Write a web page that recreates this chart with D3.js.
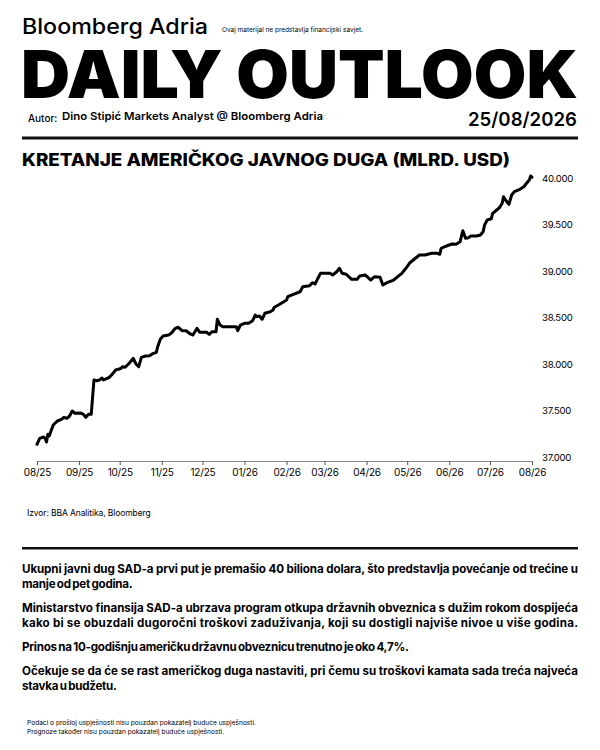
<!DOCTYPE html>
<html>
<head>
<meta charset="utf-8">
<script src="https://cdn.jsdelivr.net/npm/d3@7"></script>
<style>
  html, body { margin: 0; padding: 0; background: #fff; }
  svg { display: block; }
  text { font-family: Inter, "Liberation Sans", sans-serif; fill: #000; }
</style>
</head>
<body>
<svg id="chart" width="600" height="750"></svg>
<script>
// ---- data ----
const dates = [
  "2025-08-25","2025-08-27","2025-08-30","2025-08-31","2025-09-01","2025-09-02","2025-09-03","2025-09-04",
  "2025-09-06","2025-09-09","2025-09-12","2025-09-14","2025-09-16","2025-09-18","2025-09-20","2025-09-22",
  "2025-09-26","2025-09-28","2025-09-30","2025-10-02","2025-10-04","2025-10-06","2025-10-08","2025-10-10",
  "2025-10-12","2025-10-13","2025-10-17","2025-10-19","2025-10-22","2025-10-24","2025-10-26","2025-10-27",
  "2025-10-29","2025-11-01","2025-11-04","2025-11-06","2025-11-08","2025-11-10","2025-11-13","2025-11-16",
  "2025-11-18","2025-11-21","2025-11-22","2025-11-24","2025-11-26","2025-11-30","2025-12-02","2025-12-05",
  "2025-12-07","2025-12-10","2025-12-13","2025-12-16","2025-12-18","2025-12-21","2025-12-23","2025-12-28",
  "2025-12-30","2026-01-01","2026-01-04","2026-01-05","2026-01-07","2026-01-09","2026-01-17","2026-01-19",
  "2026-01-20","2026-01-22","2026-01-25","2026-01-28","2026-01-31","2026-02-02","2026-02-03","2026-02-05",
  "2026-02-07","2026-02-09","2026-02-13","2026-02-15","2026-02-16","2026-02-19","2026-02-23","2026-02-25",
  "2026-02-26","2026-03-02","2026-03-07","2026-03-09","2026-03-14","2026-03-16","2026-03-18","2026-03-22",
  "2026-03-25","2026-03-29","2026-03-31","2026-04-03","2026-04-05","2026-04-07","2026-04-10","2026-04-14",
  "2026-04-18","2026-04-20","2026-04-24","2026-04-26","2026-04-28","2026-05-01","2026-05-05","2026-05-07",
  "2026-05-10","2026-05-15","2026-05-18","2026-05-21","2026-05-24","2026-05-27","2026-05-31","2026-06-03",
  "2026-06-07","2026-06-12","2026-06-16","2026-06-18","2026-06-19","2026-06-23","2026-06-27","2026-06-30",
  "2026-07-03","2026-07-05","2026-07-07","2026-07-09","2026-07-11","2026-07-15","2026-07-18","2026-07-20",
  "2026-07-21","2026-07-23","2026-07-26","2026-07-27","2026-07-30","2026-08-01","2026-08-03","2026-08-04",
  "2026-08-06","2026-08-08","2026-08-10","2026-08-12","2026-08-16","2026-08-19","2026-08-21","2026-08-23",
  "2026-08-24","2026-08-25"
];
const debt = [
  37137,37201,37215,37201,37161,37244,37226,37266,
  37344,37387,37405,37427,37416,37441,37495,37470,
  37473,37462,37427,37459,37459,37828,37820,37828,
  37849,37828,37853,37882,37935,37943,37954,37971,
  37965,38008,38061,38000,37971,38072,38086,38089,
  38108,38126,38186,38269,38301,38312,38330,38384,
  38395,38358,38358,38323,38312,38384,38341,38341,
  38319,38347,38347,38481,38419,38401,38401,38401,
  38358,38419,38438,38438,38466,38527,38509,38516,
  38481,38545,38562,38581,38610,38634,38670,38688,
  38724,38749,38777,38831,38842,38874,38860,38975,
  38975,38975,38957,38992,39029,38975,38965,38911,
  38911,38946,38957,38932,38903,38939,38932,38849,
  38874,38903,38939,38975,39029,39089,39137,39172,
  39172,39190,39190,39180,39244,39269,39290,39287,
  39315,39433,39352,39358,39376,39376,39387,39423,
  39495,39548,39562,39620,39656,39681,39728,39799,
  39753,39717,39817,39853,39878,39906,39943,39978,
  40022,40008
];
const yTicks = [37000, 37500, 38000, 38500, 39000, 39500, 40000];
const xStart = "2025-08-25";
const xEnd = "2026-08-25";

const headerBrand = "Bloomberg Adria";
const disclaimerTop = "Ovaj materijal ne predstavlja financijski savjet.";
const headerTitle = "DAILY OUTLOOK";
const authorLabel = "Autor:";
const authorName = "Dino Stipić Markets Analyst @ Bloomberg Adria";
const reportDate = "25/08/2026";
const chartTitle = "KRETANJE AMERIČKOG JAVNOG DUGA (MLRD. USD)";
const sourceText = "Izvor: BBA Analitika, Bloomberg";
const paragraphs = [
  ["Ukupni javni dug SAD-a prvi put je premašio 40 biliona dolara, što predstavlja povećanje od trećine u", "manje od pet godina."],
  ["Ministarstvo finansija SAD-a ubrzava program otkupa državnih obveznica s dužim rokom dospijeća", "kako bi se obuzdali dugoročni troškovi zaduživanja, koji su dostigli najviše nivoe u više godina."],
  ["Prinos na 10-godišnju američku državnu obveznicu trenutno je oko 4,7%."],
  ["Očekuje se da će se rast američkog duga nastaviti, pri čemu su troškovi kamata sada treća najveća", "stavka u budžetu."]
];
const footerLines = [
  "Podaci o prošloj uspješnosti nisu pouzdan pokazatelj buduće uspješnosti.",
  "Prognoze također nisu pouzdan pokazatelj buduće uspješnosti."
];

// ---- drawing ----
const svg = d3.select("#chart");
const parse = d3.timeParse("%Y-%m-%d");
const data = dates.map((d, i) => ({ date: parse(d), value: debt[i] }));

// Header
svg.append("text").attr("x", 22).attr("y", 34)
  .attr("font-size", 21.5).attr("font-weight", 500)
  .attr("textLength", 186).attr("lengthAdjust", "spacingAndGlyphs")
  .text(headerBrand);
svg.append("text").attr("x", 222).attr("y", 32)
  .attr("font-size", 6.8).attr("textLength", 141).attr("lengthAdjust", "spacingAndGlyphs")
  .text(disclaimerTop);
svg.append("text").attr("x", 21).attr("y", 98)
  .attr("font-size", 66).attr("font-weight", 900)
  .attr("textLength", 557).attr("lengthAdjust", "spacingAndGlyphs")
  .text(headerTitle);
svg.append("text").attr("x", 28).attr("y", 122)
  .attr("font-size", 10).attr("font-weight", 500)
  .text(authorLabel);
svg.append("text").attr("x", 62).attr("y", 120)
  .attr("font-size", 11).attr("font-weight", 600)
  .attr("textLength", 261).attr("lengthAdjust", "spacingAndGlyphs")
  .text(authorName);
svg.append("text").attr("x", 577).attr("y", 126)
  .attr("font-size", 19).attr("font-weight", 600).attr("text-anchor", "end")
  .attr("textLength", 109).attr("lengthAdjust", "spacingAndGlyphs")
  .text(reportDate);
svg.append("rect").attr("x", 22).attr("y", 136.5).attr("width", 556).attr("height", 3).attr("fill", "#111");

// Chart title
svg.append("text").attr("x", 22).attr("y", 166)
  .attr("font-size", 17).attr("font-weight", 800)
  .attr("textLength", 488).attr("lengthAdjust", "spacingAndGlyphs")
  .text(chartTitle);

// Scales
const x = d3.scaleTime().domain([parse(xStart), parse(xEnd)]).range([37, 532]);
const y = d3.scaleLinear().domain([37000, 40000]).range([457, 178]);
const loc = d3.formatLocale({ decimal: ",", thousands: ".", grouping: [3], currency: ["", ""] });
const fmtY = loc.format(",.0f");

// X axis
const xTickVals = d3.range(13).map(i => d3.timeMonth.offset(parse(xStart), i));
const xAxis = d3.axisBottom(x).tickValues(xTickVals).tickFormat(d3.timeFormat("%m/%y"))
  .tickSize(4).tickSizeOuter(0).tickPadding(4);
const gx = svg.append("g").attr("transform", "translate(0,461)").call(xAxis);
gx.select(".domain").attr("stroke", "#8a8a8a").attr("stroke-width", 1.2);
gx.selectAll(".tick line").attr("stroke", "#555");
gx.selectAll(".tick text").attr("font-size", 10).attr("fill", "#222")
  .attr("letter-spacing", -0.2)
  .attr("font-family", "Inter, 'Liberation Sans', sans-serif");

// Y labels (right side, no gridlines)
const yAxis = d3.axisRight(y).tickValues(yTicks).tickFormat(fmtY).tickSize(0).tickPadding(0);
const gy = svg.append("g").attr("transform", "translate(542,0)").call(yAxis);
gy.select(".domain").remove();
gy.selectAll(".tick text").attr("font-size", 9.6).attr("fill", "#222")
  .attr("letter-spacing", -0.3)
  .attr("font-family", "Inter, 'Liberation Sans', sans-serif");

// Line
const line = d3.line().x(d => x(d.date)).y(d => y(d.value)).curve(d3.curveLinear);
svg.append("path").datum(data)
  .attr("d", line).attr("fill", "none")
  .attr("stroke", "#000").attr("stroke-width", 3)
  .attr("stroke-linejoin", "round").attr("stroke-linecap", "round");

// Source
svg.append("text").attr("x", 27).attr("y", 516)
  .attr("font-size", 8.5).attr("fill", "#222").attr("letter-spacing", -0.1)
  .text(sourceText);
svg.append("rect").attr("x", 22).attr("y", 547).attr("width", 556).attr("height", 2.5).attr("fill", "#111");

// Paragraphs
let py = 573;
paragraphs.forEach(p => {
  p.forEach((ln, i) => {
    const t = svg.append("text").attr("x", 22).attr("y", py)
      .attr("font-size", 11.6).attr("font-weight", 700)
      .text(ln);
    if (i < p.length - 1 || (p.length === 2 && i === 1 && ln.length > 80)) {
      t.attr("textLength", 556).attr("lengthAdjust", "spacing");
    } else {
      t.attr("letter-spacing", -0.25).attr("word-spacing", -1);
    }
    py += 15;
  });
  py += 9;
});

// Footer
footerLines.forEach((f, i) => {
  svg.append("text").attr("x", 27).attr("y", 725 + i * 9)
    .attr("font-size", 6.6).attr("fill", "#222")
    .text(f);
});
</script>
</body>
</html>
